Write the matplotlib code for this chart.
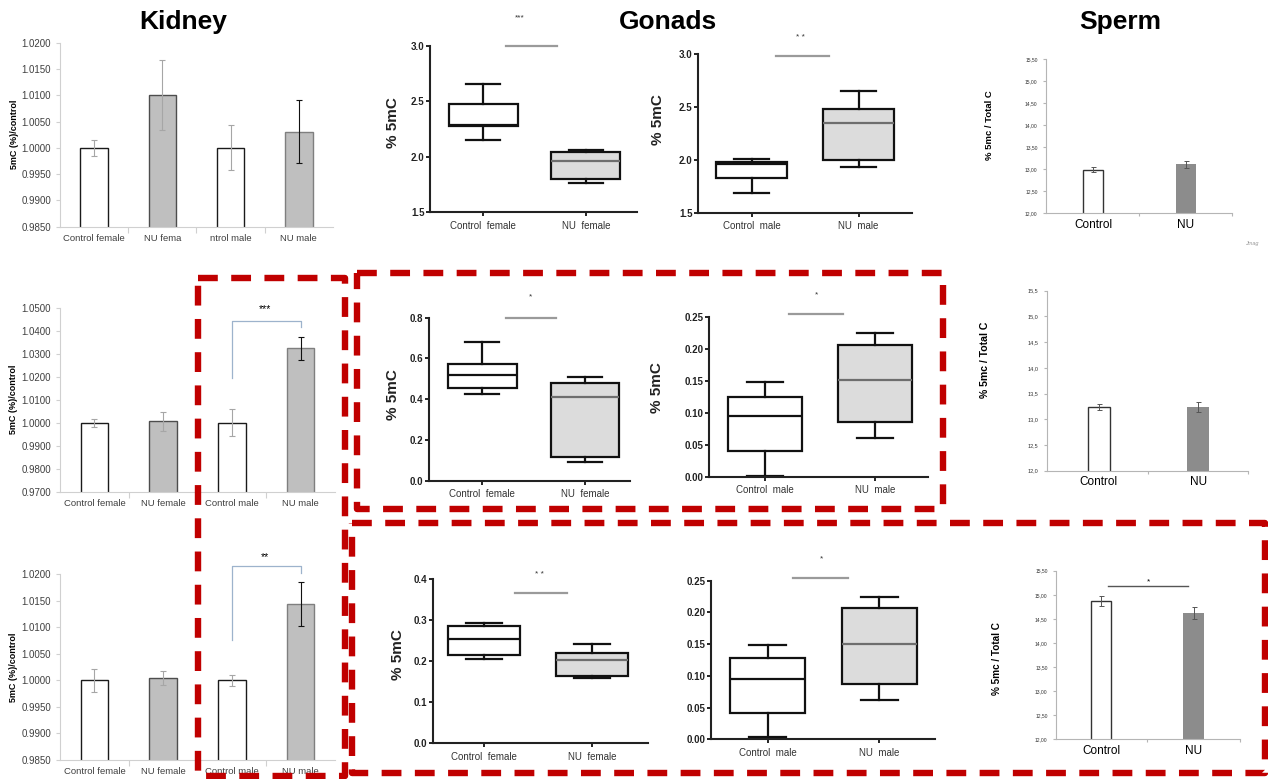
import numpy as np
import matplotlib
matplotlib.use("Agg")
import matplotlib.pyplot as plt
from matplotlib.patches import Rectangle

plt.rcParams['font.family'] = ['Liberation Sans', 'DejaVu Sans']

W, H = 1268, 779

# ---- Kidney (bar charts, 5mC relative to control) ----
kidney_labels_r1 = ["Control female", "NU fema", "ntrol male", "NU male"]
kidney_labels = ["Control female", "NU female", "Control male", "NU male"]
k1_mean = [1.0000, 1.0100, 1.0000, 1.0031]
k1_err = [0.0015, 0.0067, 0.0043, 0.0060]
k2_mean = [1.0000, 1.0007, 1.0000, 1.0323]
k2_err = [0.0018, 0.0041, 0.0058, 0.0050]
k3_mean = [1.0000, 1.0005, 1.0000, 1.0144]
k3_err = [0.0021, 0.0013, 0.0011, 0.0041]

# ---- Gonads (box plots: whislo, q1, median, q3, whishi) ----
g1f_ctrl = [2.15, 2.28, 2.285, 2.475, 2.66]
g1f_nu = [1.76, 1.80, 1.96, 2.04, 2.06]
g1m_ctrl = [1.69, 1.83, 1.96, 1.975, 2.01]
g1m_nu = [1.93, 1.995, 2.345, 2.48, 2.65]
g2f_ctrl = [0.424, 0.453, 0.517, 0.572, 0.682]
g2f_nu = [0.092, 0.115, 0.409, 0.478, 0.507]
g2m_ctrl = [0.0016, 0.040, 0.095, 0.125, 0.148]
g2m_nu = [0.061, 0.085, 0.151, 0.206, 0.2245]
g3f_ctrl = [0.205, 0.2146, 0.254, 0.287, 0.293]
g3f_nu = [0.1595, 0.163, 0.2024, 0.221, 0.242]
g3m_ctrl = [0.003, 0.042, 0.0956, 0.1276, 0.1486]
g3m_nu = [0.0625, 0.087, 0.151, 0.207, 0.2248]
female_labels = ["Control  female", "NU  female"]
male_labels = ["Control  male", "NU  male"]

# ---- Sperm (bar charts) ----
sperm_labels = ["Control", "NU"]
s1_mean = [12.99, 13.11]
s1_err = [0.06, 0.09]
s2_mean = [13.24, 13.235]
s2_err = [0.06, 0.10]
s3_mean = [14.87, 14.62]
s3_err = [0.11, 0.12]

fig = plt.figure(figsize=(W / 100, H / 100), dpi=100)


def px_axes(x0, x1, y0, y1):
    return fig.add_axes([x0 / W, 1 - y1 / H, (x1 - x0) / W, (y1 - y0) / H])


def place_ylabel(ax, box, text, px, frac, **kw):
    ax.set_ylabel(text, va='center', **kw)
    ax.yaxis.set_label_coords((px - box[0]) / (box[1] - box[0]), frac)


def kidney_panel(box, means, errs, ylim, step, labels, bracket=None):
    ax = px_axes(*box)
    x = np.arange(4)
    ax.bar(x, means, width=0.4, color=['white', '#bfbfbf', 'white', '#bfbfbf'],
           edgecolor=['#1a1a1a', '#4d4d4d', '#1a1a1a', '#7f7f7f'], linewidth=1.0)
    ecols = ['#a6a6a6', '#a6a6a6', '#a6a6a6', '#111111']
    for i in range(4):
        ax.errorbar(x[i], means[i], yerr=errs[i], color=ecols[i], capsize=2.5,
                    elinewidth=0.8, capthick=0.8)
    ax.set_xlim(-0.5, 3.5)
    ax.set_ylim(*ylim)
    ticks = np.arange(ylim[0], ylim[1] + step / 2, step)
    ax.set_yticks(ticks)
    ax.set_yticklabels([f"{t:.4f}" for t in ticks])
    for s in ['top', 'right']:
        ax.spines[s].set_visible(False)
    for s in ['left', 'bottom']:
        ax.spines[s].set_color('#d0d0d0')
    ax.set_xticks([0.5, 1.5, 2.5])
    ax.set_xticklabels([])
    ax.set_xticks(x, minor=True)
    ax.set_xticklabels(labels, minor=True)
    ax.tick_params(axis='x', which='major', length=4, color='#d0d0d0')
    ax.tick_params(axis='x', which='minor', length=0, labelsize=6.8, labelcolor='#404040', pad=5)
    ax.tick_params(axis='y', length=3, color='#d0d0d0', labelsize=7, labelcolor='#404040')
    place_ylabel(ax, box, "5mC (%)/control", 14, 0.5, fontsize=6.5, fontweight='bold')
    if bracket is not None:
        top, lft, rgt, star_y, stars = bracket
        ax.plot([2, 2, 3, 3], [lft, top, top, rgt], color='#9db3cc', lw=0.9, clip_on=False)
        ax.text(2.48, star_y, stars, ha='center', va='center', fontsize=7.5, clip_on=False)
    return ax


def gonad_panel(box, xlim, ylim, step, fmt, ctrl, nu, labels, ylab_frac=None, sig=None):
    ax = px_axes(*box)
    keys = ['whislo', 'q1', 'med', 'q3', 'whishi']
    for pos, vals, fc, mc in [(0, ctrl, 'white', '#111111'), (1, nu, '#dcdcdc', '#6e6e6e')]:
        st = dict(zip(keys, vals))
        st['fliers'] = []
        lw = 1.6
        ax.bxp([st], positions=[pos], widths=0.67, capwidths=0.33, patch_artist=True,
               showfliers=False, manage_ticks=False,
               boxprops=dict(facecolor=fc, edgecolor='#111111', linewidth=lw),
               medianprops=dict(color=mc, linewidth=lw),
               whiskerprops=dict(color='#111111', linewidth=lw),
               capprops=dict(color='#111111', linewidth=lw))
    ax.set_xlim(*xlim)
    ax.set_ylim(*ylim)
    ticks = np.arange(ylim[0], ylim[1] + step / 2, step)
    ax.set_yticks(ticks)
    ax.set_yticklabels([fmt.format(t) for t in ticks])
    for s in ['top', 'right']:
        ax.spines[s].set_visible(False)
    for s in ['left', 'bottom']:
        ax.spines[s].set_color('#222222')
        ax.spines[s].set_linewidth(1.5)
    ax.set_xticks([0, 1])
    ax.set_xticklabels(labels)
    ax.tick_params(axis='x', length=3, width=1.2, labelsize=7, labelcolor='#333333', pad=3)
    ax.tick_params(axis='y', length=3, width=1.2, labelsize=7, labelcolor='#222222', pad=1)
    for t in ax.get_yticklabels():
        t.set_fontweight('bold')
    if ylab_frac is not None:
        place_ylabel(ax, box, "% 5mC", ylab_frac[0], ylab_frac[1], fontsize=11, fontweight='bold',
                     color='#222222')
    if sig is not None:
        x0, x1, y, sx, sy, stars = sig
        ax.plot([x0, x1], [y, y], color='#9a9a9a', lw=1.6, clip_on=False)
        ax.text(sx, sy, stars, ha='center', va='center', fontsize=6, color='#333333', clip_on=False)
    return ax


def sperm_panel(box, xlim, means, errs, fmt, ylab, tick_fs, sig=None):
    ax = px_axes(*box)
    x = np.arange(2)
    ax.bar(x, means, width=0.22, color=['white', '#8c8c8c'],
           edgecolor=['#333333', '#8c8c8c'], linewidth=[1.0, 0.0])
    for i in range(2):
        ax.errorbar(x[i], means[i], yerr=errs[i], color='#555555', capsize=1.8,
                    elinewidth=0.7, capthick=0.7)
    ax.set_xlim(*xlim)
    ax.set_ylim(12, 15.5)
    ticks = np.arange(12, 15.51, 0.5)
    ax.set_yticks(ticks)
    ax.set_yticklabels([fmt.format(t).replace('.', ',') for t in ticks])
    for s in ['top', 'right']:
        ax.spines[s].set_visible(False)
    for s in ['left', 'bottom']:
        ax.spines[s].set_color('#b5b5b5')
    ax.set_xticks([0.5, 1.5])
    ax.set_xticklabels([])
    ax.set_xticks(x, minor=True)
    ax.set_xticklabels(sperm_labels, minor=True)
    ax.tick_params(axis='x', which='major', length=2.5, color='#b5b5b5')
    ax.tick_params(axis='x', which='minor', length=0, labelsize=8.5, pad=4)
    ax.tick_params(axis='y', length=2, color='#b5b5b5', labelsize=tick_fs, labelcolor='#333333', pad=4)
    place_ylabel(ax, box, "% 5mc / Total C", ylab[0], ylab[1], fontsize=ylab[2], fontweight='bold')
    if sig is not None:
        x0, x1, y, sx, sy = sig
        ax.plot([x0, x1], [y, y], color='#555555', lw=1.0, clip_on=False)
        ax.text(sx, sy, '*', ha='center', va='center', fontsize=6, clip_on=False)
    return ax


# Kidney column
kidney_panel((60, 333, 42.7, 226.7), k1_mean, k1_err, (0.985, 1.02), 0.005, kidney_labels_r1)
kidney_panel((60, 335, 307.7, 491.7), k2_mean, k2_err, (0.97, 1.05), 0.01, kidney_labels,
             bracket=(1.0443, 1.0193, 1.0415, 1.0493, '***'))
kidney_panel((60, 335, 574.3, 760), k3_mean, k3_err, (0.985, 1.02), 0.005, kidney_labels,
             bracket=(1.0216, 1.0076, 1.0203, 1.0232, '**'))

# Gonads column
gonad_panel((430, 637, 46, 212.3), (-0.52, 1.5), (1.5, 3.0), 0.5, "{:.1f}", g1f_ctrl, g1f_nu,
            female_labels, ylab_frac=(392.7, 0.537), sig=(0.225, 0.72, 3.0, 0.36, 3.25, '***'))
gonad_panel((698, 912, 54, 212.7), (-0.5, 1.5), (1.5, 3.0), 0.5, "{:.1f}", g1m_ctrl, g1m_nu,
            male_labels, ylab_frac=(658, 0.585), sig=(0.23, 0.72, 2.98, 0.46, 3.16, '* *'))
gonad_panel((429, 630, 317.7, 480.7), (-0.52, 1.44), (0, 0.8), 0.2, "{:.1f}", g2f_ctrl, g2f_nu,
            female_labels, ylab_frac=(393, 0.53), sig=(0.23, 0.72, 0.80, 0.47, 0.90, '*'))
gonad_panel((709, 928, 316.7, 476.7), (-0.506, 1.48), (0, 0.25), 0.05, "{:.2f}", g2m_ctrl, g2m_nu,
            male_labels, ylab_frac=(656.7, 0.56), sig=(0.22, 0.71, 0.254, 0.47, 0.284, '*'))
gonad_panel((433, 648, 579.3, 743.3), (-0.475, 1.52), (0, 0.4), 0.1, "{:.1f}", g3f_ctrl, g3f_nu,
            female_labels, ylab_frac=(398, 0.54), sig=(0.29, 0.77, 0.367, 0.51, 0.412, '* *'))
gonad_panel((711, 935, 580.7, 739.3), (-0.507, 1.5), (0, 0.25), 0.05, "{:.2f}", g3m_ctrl, g3m_nu,
            male_labels, sig=(0.23, 0.72, 0.2537, 0.48, 0.285, '*'))

# Sperm column
sperm_panel((1046, 1232, 59.3, 213.3), (-0.51, 1.5), s1_mean, s1_err, "{:.2f}", (989, 0.57, 6.8), 3.6)
sperm_panel((1047, 1248, 290.7, 470.7), (-0.52, 1.5), s2_mean, s2_err, "{:.1f}", (985, 0.615, 7.6), 4.0)
sperm_panel((1056, 1240, 570.7, 739.3), (-0.485, 1.5), s3_mean, s3_err, "{:.2f}", (996.7, 0.48, 7.2), 3.6,
            sig=(0.075, 0.94, 15.18, 0.51, 15.27))

# Overlay: titles and red dashed highlight boxes
ov = fig.add_axes([0, 0, 1, 1], zorder=10)
ov.set_xlim(0, W)
ov.set_ylim(H, 0)
ov.axis('off')
ov.patch.set_alpha(0)
for name, cx in [("Kidney", 183), ("Gonads", 668), ("Sperm", 1120)]:
    ov.text(cx, 22, name, ha='center', va='center', fontsize=19, fontweight='bold')
ov.text(1252, 243, "Jmag", fontsize=4, style='italic', color='#999999', ha='center', va='center')
for (x0, y0, x1, y1) in [(198, 278, 345, 776), (357, 273, 943, 509), (352, 523, 1265, 773)]:
    ov.add_patch(Rectangle((x0, y0), x1 - x0, y1 - y0, fill=False, edgecolor='#c00000',
                           linewidth=4.6, linestyle=(0, (3.1, 2.1)), joinstyle='round'))

fig.savefig("out.png", dpi=100)
